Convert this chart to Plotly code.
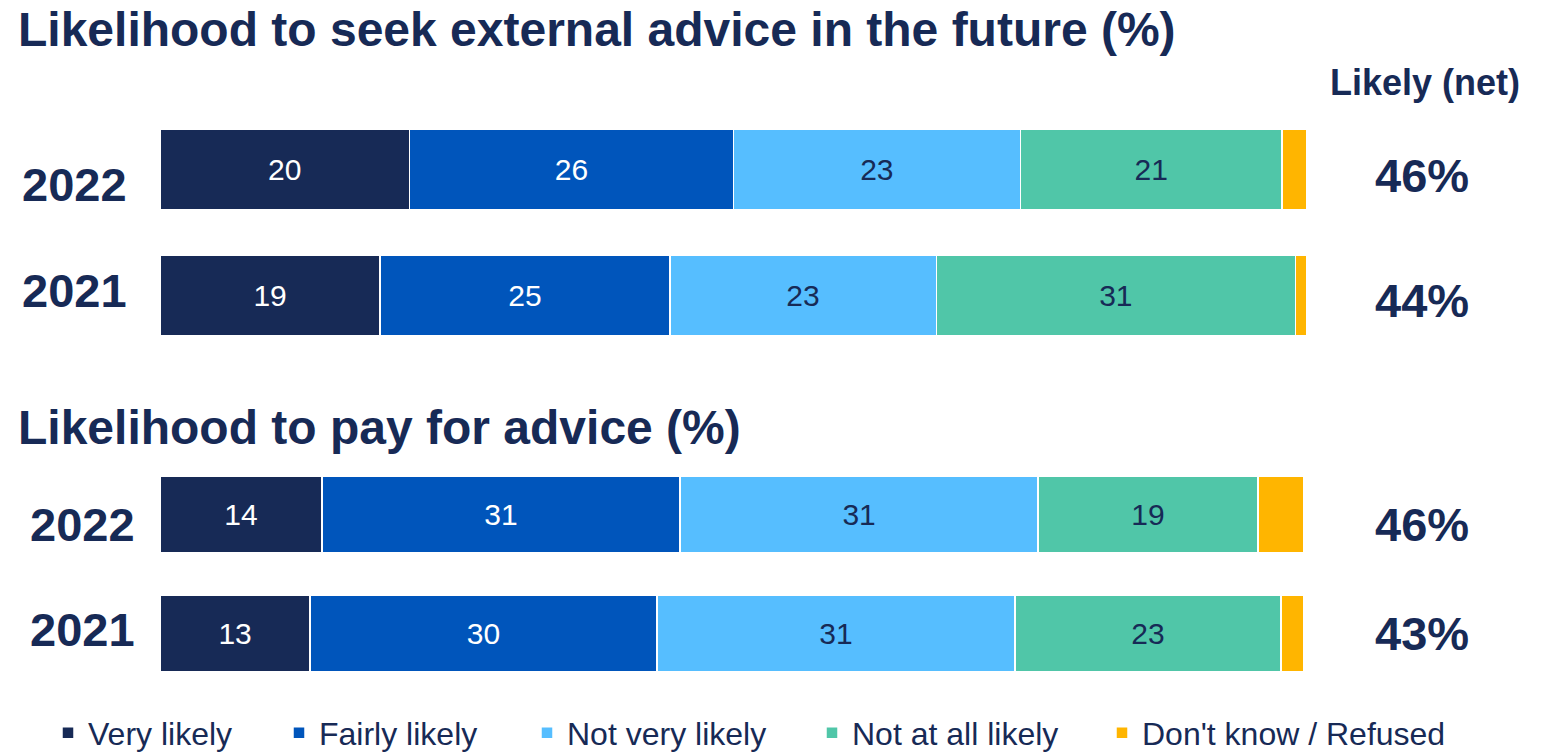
import plotly.graph_objects as go

# ---------------- data ----------------
series = ["Very likely", "Fairly likely", "Not very likely", "Not at all likely", "Don't know / Refused"]
colors = ["#172A56", "#0055BB", "#56BEFF", "#50C6A8", "#FFB500"]
text_colors = ["white", "white", "#172A56", "#172A56", "#172A56"]

years = ["2022", "2021"]

seek_title = "Likelihood to seek external advice in the future (%)"
seek_values = {
    "Very likely": [20, 19],
    "Fairly likely": [26, 25],
    "Not very likely": [23, 23],
    "Not at all likely": [21, 31],
    "Don't know / Refused": [2, 1],
}
seek_net = ["46%", "44%"]

pay_title = "Likelihood to pay for advice (%)"
pay_values = {
    "Very likely": [14, 13],
    "Fairly likely": [31, 30],
    "Not very likely": [31, 31],
    "Not at all likely": [19, 23],
    "Don't know / Refused": [4, 2],
}
pay_net = ["46%", "43%"]

net_header = "Likely (net)"

# ---------------- style ----------------
W, H = 1552, 753
NAVY = "#172A56"
FONT = "Liberation Sans, Arial, sans-serif"

def px_x(p):
    return p / W

def px_y(p):
    return 1 - p / H

fig = go.Figure()

legend_names = ["legend", "legend2", "legend3", "legend4", "legend5"]

for panel, (vals, xa, ya) in enumerate([(seek_values, "x", "y"), (pay_values, "x2", "y2")]):
    for i, s in enumerate(series):
        v = vals[s]
        txt = [str(a) if s != "Don't know / Refused" else "" for a in v]
        fig.add_trace(go.Bar(
            name=s,
            y=years,
            x=v,
            orientation="h",
            xaxis=xa,
            yaxis=ya,
            marker=dict(color=colors[i], line=dict(color="white", width=1.5)),
            text=txt,
            textposition="inside",
            insidetextanchor="middle",
            textangle=0,
            insidetextfont=dict(size=30, color=text_colors[i], family=FONT),
            showlegend=(panel == 0),
            legendgroup=s,
            legend=legend_names[i],
            hoverinfo="skip",
        ))

annotations = []
# titles
annotations.append(dict(text="<b>" + seek_title + "</b>", x=px_x(16), y=px_y(30), xref="paper", yref="paper",
                        xanchor="left", yanchor="middle", showarrow=False,
                        font=dict(size=48, color=NAVY, family=FONT)))
annotations.append(dict(text="<b>" + pay_title + "</b>", x=px_x(16), y=px_y(427), xref="paper", yref="paper",
                        xanchor="left", yanchor="middle", showarrow=False,
                        font=dict(size=48, color=NAVY, family=FONT)))
annotations.append(dict(text="<b>" + net_header + "</b>", x=px_x(1425), y=px_y(82), xref="paper", yref="paper",
                        xanchor="center", yanchor="middle", showarrow=False,
                        font=dict(size=36, color=NAVY, family=FONT)))

# year labels and net values
year_shift = {("y", 0): -15, ("y", 1): 5, ("y2", 0): -10, ("y2", 1): 4}
net_shift = {("y", 0): -6, ("y", 1): -5, ("y2", 0): -10, ("y2", 1): 0}
for ya, xleft, nets in [("y", 20, seek_net), ("y2", 28, pay_net)]:
    for k, yr in enumerate(years):
        annotations.append(dict(text="<b>" + yr + "</b>", x=px_x(xleft), y=k, xref="paper", yref=ya,
                                xanchor="left", yanchor="middle", showarrow=False, yshift=year_shift[(ya, k)],
                                font=dict(size=47, color=NAVY, family=FONT)))
        annotations.append(dict(text="<b>" + nets[k] + "</b>", x=px_x(1422), y=k, xref="paper", yref=ya,
                                xanchor="center", yanchor="middle", showarrow=False, yshift=net_shift[(ya, k)],
                                font=dict(size=47, color=NAVY, family=FONT)))

layout = dict(
    width=W, height=H,
    margin=dict(l=0, r=0, t=0, b=0, autoexpand=False),
    paper_bgcolor="white", plot_bgcolor="white",
    barmode="stack", barnorm="percent",
    bargap=0.36,
    xaxis=dict(domain=[px_x(160), px_x(1307)], range=[0, 100], visible=False),
    xaxis2=dict(domain=[px_x(160), px_x(1304)], range=[0, 100], visible=False, anchor="y2"),
    yaxis=dict(domain=[px_y(358), px_y(107)], type="category", categoryorder="array",
               categoryarray=years, range=[1.5, -0.5], visible=False),
    yaxis2=dict(domain=[px_y(693), px_y(455)], type="category", categoryorder="array",
                categoryarray=years, range=[1.5, -0.5], visible=False, anchor="x2"),
    annotations=annotations,
    font=dict(family=FONT, color=NAVY),
)

legend_x = [66, 297, 545, 830, 1120]
for i, ln in enumerate(legend_names):
    layout[ln] = dict(
        x=px_x(legend_x[i] - 18), y=px_y(733), xref="paper", yref="paper",
        xanchor="left", yanchor="middle", orientation="h",
        font=dict(size=32, color=NAVY, family=FONT),
        bgcolor="rgba(0,0,0,0)", borderwidth=0,
        itemclick=False, itemdoubleclick=False,
    )

fig.update_layout(**layout)
fig.write_html("out.html", config={"displayModeBar": False})
